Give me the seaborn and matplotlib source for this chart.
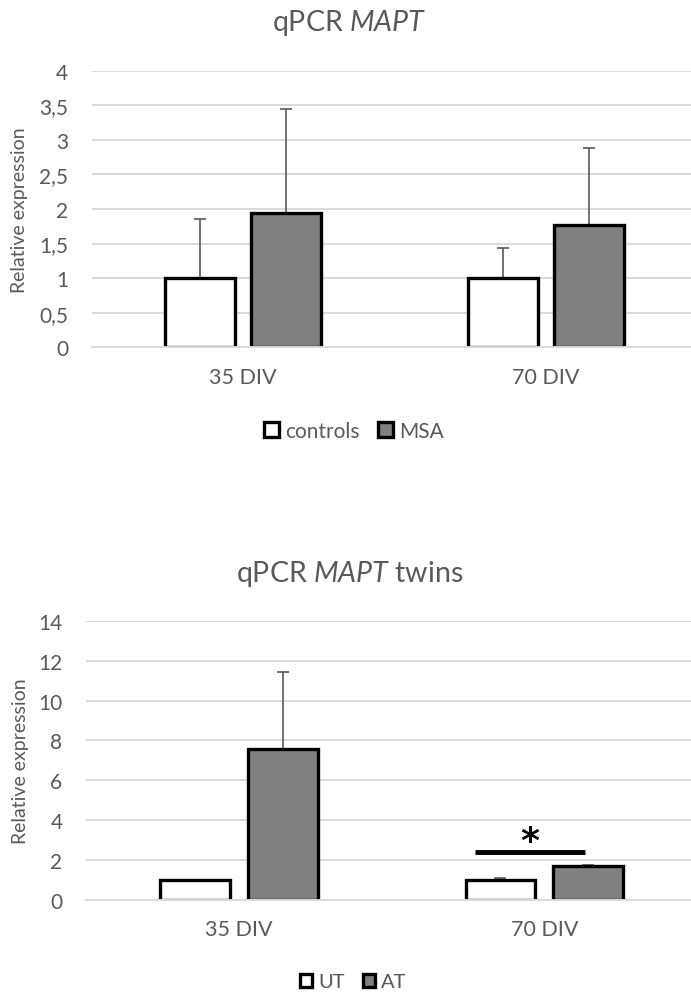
import matplotlib
matplotlib.use("Agg")
import matplotlib.pyplot as plt
import seaborn as sns
import pandas as pd
from matplotlib.patches import Patch

# ---- data ----
days = ["35 DIV", "70 DIV"]
groups_top = ["controls", "MSA"]
controls_vals = [1.0, 1.0]
controls_err = [0.85, 0.43]
msa_vals = [1.94, 1.77]
msa_err = [1.51, 1.11]

groups_bot = ["UT", "AT"]
ut_vals = [1.0, 1.0]
ut_err = [0.02, 0.08]
at_vals = [7.55, 1.70]
at_err = [3.9, 0.05]

sig_level = 2.4
top_ticks = [0, 0.5, 1, 1.5, 2, 2.5, 3, 3.5, 4]
top_ticklabels = ["0", "0,5", "1", "1,5", "2", "2,5", "3", "3,5", "4"]
bot_ticks = [0, 2, 4, 6, 8, 10, 12, 14]

sns.set_style("white")
plt.rcParams["font.family"] = ["Lato", "DejaVu Sans"]
plt.rcParams["mathtext.fontset"] = "custom"
plt.rcParams["mathtext.rm"] = "Lato"
plt.rcParams["mathtext.it"] = "Lato:italic"

TXT = "#595959"
GRID = "#d9d9d9"
colors = ["#ffffff", "#808080"]

fig = plt.figure(figsize=(6.91, 9.95), dpi=100)
ax1 = fig.add_axes([0.133, 0.650, 0.867, 0.278])
ax2 = fig.add_axes([0.1245, 0.0945, 0.8755, 0.2805])


def draw(ax, groups, v1, e1, v2, e2, ticks, ticklabels, ylim, gap, width):
    df = pd.DataFrame({
        "day": days * 2,
        "group": [groups[0]] * 2 + [groups[1]] * 2,
        "value": list(v1) + list(v2),
    })
    errs = list(e1) + list(e2)
    sns.barplot(data=df, x="day", y="value", hue="group", order=days,
                hue_order=groups, palette=colors, errorbar=None,
                width=width, gap=gap, edgecolor="black", linewidth=2.4,
                ax=ax, zorder=3, legend=False)
    bars = [p for p in ax.patches]
    for p, e in zip(bars, errs):
        cx = p.get_x() + p.get_width() / 2
        top = p.get_height()
        ax.errorbar([cx], [top], yerr=[[0], [e]], fmt="none", ecolor=TXT,
                    elinewidth=1.2, capsize=4, capthick=1.2, zorder=2)
    ax.set_ylim(*ylim)
    ax.set_yticks(ticks)
    ax.set_yticklabels(ticklabels)
    ax.yaxis.grid(True, color=GRID, linewidth=1.4, zorder=0)
    ax.set_axisbelow(True)
    for s in ["top", "right", "left"]:
        ax.spines[s].set_visible(False)
    ax.spines["bottom"].set_color(GRID)
    ax.spines["bottom"].set_linewidth(1.4)
    ax.spines["bottom"].set_zorder(4)
    ax.tick_params(axis="y", length=0, labelsize=15, colors=TXT, pad=17)
    ax.tick_params(axis="x", length=0, labelsize=15.5, colors=TXT, pad=14)
    ax.set_xlabel("")
    ax.set_ylabel("Relative expression", fontsize=14, color=TXT)
    ax.set_xlim(-0.5, 1.48)
    return bars


draw(ax1, groups_top, controls_vals, controls_err, msa_vals, msa_err,
     top_ticks, top_ticklabels, (0, 4), 0.186, 0.567)
ax1.yaxis.set_label_coords(-0.106, 0.5)
fig.text(0.506, 1 - 31 / 995, r"qPCR $\mathit{MAPT}$", ha="center",
         va="baseline", fontsize=20.5, color=TXT)
h1 = [Patch(facecolor=c, edgecolor="black", linewidth=2.4) for c in colors]
fig.legend(h1, groups_top, loc="center", bbox_to_anchor=(0.512, 1 - 432 / 995),
           ncol=2, frameon=False, fontsize=15, labelcolor=TXT,
           handlelength=0.7, handleheight=0.7, handletextpad=0.3,
           columnspacing=0.9)

bars2 = draw(ax2, groups_bot, ut_vals, ut_err, at_vals, at_err,
             bot_ticks, [str(t) for t in bot_ticks], (0, 14), 0.205, 0.575)
ax2.yaxis.set_label_coords(-0.094, 0.5)
fig.text(0.506, 1 - 582 / 995, r"qPCR $\mathit{MAPT}$ twins", ha="center",
         va="baseline", fontsize=20.5, color=TXT)
fig.legend(h1, groups_bot, loc="center", bbox_to_anchor=(0.511, 1 - 983 / 995),
           ncol=2, frameon=False, fontsize=14.5, labelcolor=TXT,
           handlelength=0.6, handleheight=0.6, handletextpad=0.3,
           columnspacing=0.9)

# significance marker on 70 DIV
b_ut70 = bars2[1]
b_at70 = bars2[3]
x0 = b_ut70.get_x() + 0.03
x1 = b_at70.get_x() + b_at70.get_width() * 0.45
ax2.plot([x0, x1], [sig_level, sig_level], color="black", linewidth=3.5,
         solid_capstyle="butt", zorder=5)
ax2.annotate("*", xy=((x0 + x1) / 2, sig_level), xytext=(0, 0.8),
             textcoords="offset points", ha="center", va="baseline",
             fontsize=26, fontweight="bold", color="black",
             family="DejaVu Sans", zorder=5)

fig.savefig("out.png", dpi=100)
